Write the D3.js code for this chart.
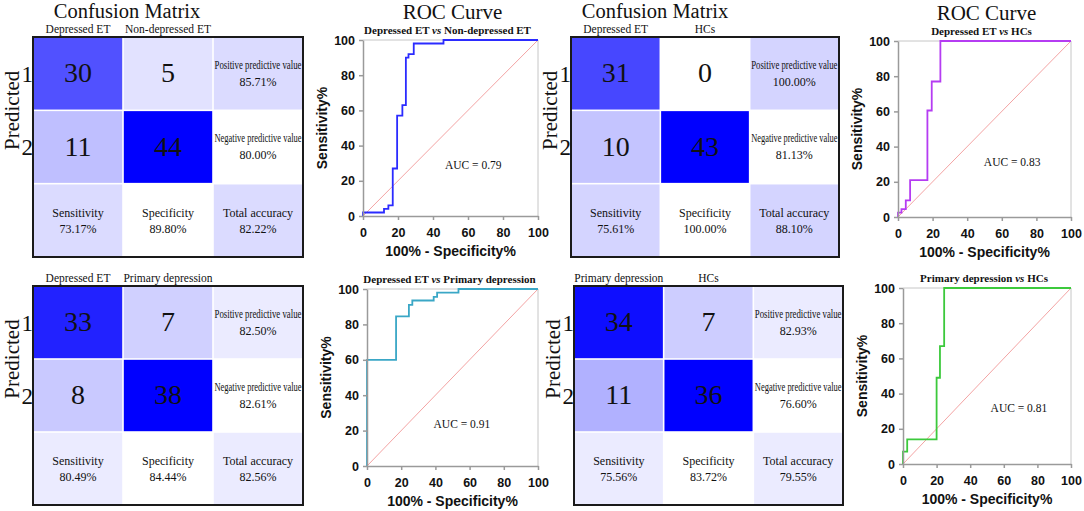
<!DOCTYPE html>
<html>
<head>
<meta charset="utf-8">
<script src="https://cdnjs.cloudflare.com/ajax/libs/d3/7.8.5/d3.min.js"></script>
<style>
  body { margin: 0; background: #fff; }
  svg { display: block; }
  .serif { font-family: 'Liberation Serif', 'Times New Roman', serif; fill: #111; }
  .sans { font-family: 'Liberation Sans', Arial, sans-serif; font-weight: bold; fill: #111; }
  .axis path, .axis line { stroke: #9a9a9a; stroke-width: 1.5; }
  .axis text { font-family: 'Liberation Sans', Arial, sans-serif; font-weight: bold; font-size: 12.5px; fill: #111; }
</style>
</head>
<body>
<svg id="fig" width="1084" height="511"></svg>
<script>
/*
* Confusion matrices + ROC curves, 2x2 comparisons
*/

// comparisons, panel order: top-left, top-right, bottom-left, bottom-right
let groupA = ['Depressed ET', 'Depressed ET', 'Depressed ET', 'Primary depression'];
let groupB = ['Non-depressed ET', 'HCs', 'Primary depression', 'HCs'];

// counts: [row1 col1, row1 col2, row2 col1, row2 col2]
let counts = [[30, 5, 11, 44], [31, 0, 10, 43], [33, 7, 8, 38], [34, 7, 11, 36]];
let ppv = [85.71, 100.00, 82.50, 82.93];
let npv = [80.00, 81.13, 82.61, 76.60];
let sensitivity = [73.17, 75.61, 80.49, 75.56];
let specificity = [89.80, 100.00, 84.44, 83.72];
let accuracy = [82.22, 88.10, 82.56, 79.55];

// ROC vertices (100% - specificity, sensitivity)
let rocFpr = [
  [0, 0, 12, 14.5, 17, 19.5, 22.5, 24.5, 26, 29, 46, 100],
  [0, 0, 2, 4.5, 7, 17, 19.5, 24.5, 100],
  [0, 0, 17, 24.5, 26.5, 39, 41, 53.5, 100],
  [0, 0, 2.5, 20, 22, 24.5, 100]
];
let rocTpr = [
  [0, 2, 4, 6, 27, 57, 63, 90, 92, 98, 100, 100],
  [0, 2.5, 4.5, 9.5, 21, 60.5, 77, 100, 100],
  [0, 60, 84.5, 91, 93.5, 95.5, 98, 100, 100],
  [0, 7, 14, 49, 67, 100, 100]
];
let auc = [0.79, 0.83, 0.91, 0.81];
let ticks = [0, 20, 40, 60, 80, 100];

// layout
let CM_BOX = [
  {l: 33, t: 37, r: 303, b: 257, titleX: 127},
  {l: 571, t: 37, r: 839, b: 257, titleX: 655},
  {l: 33, t: 286, r: 303, b: 505},
  {l: 574, t: 286, r: 843, b: 505}
];
let ROC_BOX = [
  {l: 363, r: 538, t: 40, b: 216, title: true},
  {l: 898, r: 1071, t: 41, b: 217, title: true},
  {l: 367, r: 538, t: 289, b: 466},
  {l: 903, r: 1071, t: 288, b: 464}
];
let AUC_AT = [[63, 29], [66, 31], [55.5, 24], [69, 32]];
let STAT_TINT = [0.14, 0.17, 0.08, 0.08];

let COLORS = {
  low: '#ffffff',
  high: '#0000ff',
  curve: ['#2b2bff', '#b53cf2', '#3aa7c6', '#3cc93c'],
  diag: '#f3a3a3'
};

let svg = d3.select('#fig');
svg.append('rect').attr('width', 1084).attr('height', 511).attr('fill', '#fff');

for (let i = 0; i < 4; i++) {
  drawMatrix(i);
  drawRoc(i);
}

function pct(v) {
  return v.toFixed(2) + '%';
}

function drawMatrix(i) {
  let box = CM_BOX[i];
  let g = svg.append('g').attr('class', 'matrix');
  let x = d3.scaleBand().domain([0, 1, 2]).range([box.l, box.r]);
  let y = d3.scaleBand().domain([0, 1, 2]).range([box.t, box.b]);
  let shade = d3.scaleLinear().domain([0, d3.max(counts[i])]).range([COLORS.low, COLORS.high]);
  let tint = d3.interpolateRgb(COLORS.low, COLORS.high)(STAT_TINT[i]);

  let cells = counts[i].map((v, k) => ({row: Math.floor(k / 2), col: k % 2, fill: shade(v), big: v}));
  cells.push({row: 0, col: 2, fill: tint, label: 'Positive predictive value', value: ppv[i], squeeze: true});
  cells.push({row: 1, col: 2, fill: COLORS.low, label: 'Negative predictive value', value: npv[i], squeeze: true});
  cells.push({row: 2, col: 0, fill: tint, label: 'Sensitivity', value: sensitivity[i]});
  cells.push({row: 2, col: 1, fill: COLORS.low, label: 'Specificity', value: specificity[i]});
  cells.push({row: 2, col: 2, fill: tint, label: 'Total accuracy', value: accuracy[i]});

  let cell = g.selectAll('.cell').data(cells).enter().append('g')
    .attr('class', 'cell')
    .attr('transform', d => 'translate(' + x(d.col) + ',' + y(d.row) + ')');

  cell.append('rect')
    .attr('x', 0.8)
    .attr('y', 0.8)
    .attr('width', x.bandwidth() - 1.6)
    .attr('height', y.bandwidth() - 1.6)
    .attr('fill', d => d.fill);

  let cx = x.bandwidth() / 2;
  let cy = y.bandwidth() / 2;

  cell.filter(d => d.big !== undefined).append('text')
    .attr('class', 'serif')
    .attr('x', cx)
    .attr('y', cy - 1)
    .attr('dy', '0.35em')
    .style('font-size', '28px')
    .style('text-anchor', 'middle')
    .text(d => d.big);

  let stat = cell.filter(d => d.label !== undefined);
  stat.append('text')
    .attr('class', 'serif')
    .attr('x', cx)
    .attr('y', d => cy - (d.row === 2 ? 8 : 9))
    .attr('dy', '0.35em')
    .style('font-size', d => d.squeeze ? '11.5px' : '12px')
    .each(function (d) {
      if (d.squeeze) {
        d3.select(this).attr('textLength', x.bandwidth() - 3).attr('lengthAdjust', 'spacingAndGlyphs');
      }
    })
    .style('text-anchor', 'middle')
    .text(d => d.label);

  stat.append('text')
    .attr('class', 'serif')
    .attr('x', cx)
    .attr('y', cy + 8)
    .attr('dy', '0.35em')
    .style('font-size', '12px')
    .style('text-anchor', 'middle')
    .text(d => pct(d.value));

  // outer frame
  g.append('rect')
    .attr('x', box.l)
    .attr('y', box.t)
    .attr('width', box.r - box.l)
    .attr('height', box.b - box.t)
    .attr('fill', 'none')
    .attr('stroke', '#1a1a1a')
    .attr('stroke-width', 2);

  // header
  if (box.titleX) {
    g.append('text')
      .attr('class', 'serif')
      .attr('x', box.titleX)
      .attr('y', box.t - 18.7)
      .style('font-size', '20.5px')
      .style('text-anchor', 'middle')
      .text('Confusion Matrix');
  }

  g.selectAll('.col-label').data([groupA[i], groupB[i]]).enter().append('text')
    .attr('class', 'serif col-label')
    .attr('x', (d, k) => x(k) + cx)
    .attr('y', box.t - 4.5)
    .style('font-size', '11.5px')
    .style('text-anchor', 'middle')
    .text(d => d);

  let mid = (y(0) + y(1) + y.bandwidth()) / 2;
  g.append('text')
    .attr('class', 'serif')
    .attr('transform', 'translate(' + (box.l - 14) + ',' + mid + ') rotate(-90)')
    .style('font-size', '21px')
    .style('text-anchor', 'middle')
    .text('Predicted');

  g.selectAll('.row-label').data(['1', '2']).enter().append('text')
    .attr('class', 'serif row-label')
    .attr('x', box.l)
    .attr('y', (d, k) => y(k) + cy)
    .attr('dy', '0.35em')
    .style('font-size', '23px')
    .style('text-anchor', 'end')
    .text(d => d);
}

function drawRoc(i) {
  let box = ROC_BOX[i];
  let g = svg.append('g').attr('class', 'roc');
  let x = d3.scaleLinear().domain([0, 100]).range([box.l, box.r]);
  let y = d3.scaleLinear().domain([0, 100]).range([box.b, box.t]);

  g.append('path')
    .attr('d', 'M' + x(0) + ',' + y(100) + 'H' + x(100) + 'V' + y(0))
    .attr('fill', 'none')
    .attr('stroke', '#c6c6c6')
    .attr('stroke-width', 1);

  g.append('line')
    .attr('x1', x(0)).attr('y1', y(0))
    .attr('x2', x(100)).attr('y2', y(100))
    .attr('stroke', COLORS.diag)
    .attr('stroke-width', 1);

  let pts = rocFpr[i].map((f, k) => [f, rocTpr[i][k]]);
  let line = d3.line()
    .x(d => x(d[0]))
    .y(d => y(d[1]))
    .curve(d3.curveStepAfter);

  g.append('path')
    .attr('d', line(pts))
    .attr('fill', 'none')
    .attr('stroke', COLORS.curve[i])
    .attr('stroke-width', 1.8);

  g.append('g')
    .attr('class', 'axis')
    .attr('transform', 'translate(0,' + box.b + ')')
    .call(d3.axisBottom(x).tickValues(ticks).tickSize(4).tickSizeOuter(0).tickPadding(8));

  g.append('g')
    .attr('class', 'axis')
    .attr('transform', 'translate(' + box.l + ',0)')
    .call(d3.axisLeft(y).tickValues(ticks).tickSize(4).tickSizeOuter(0).tickPadding(4));

  g.append('text')
    .attr('class', 'sans')
    .attr('x', (box.l + box.r) / 2)
    .attr('y', box.b + 40)
    .style('font-size', '14px')
    .style('text-anchor', 'middle')
    .text('100% - Specificity%');

  g.append('text')
    .attr('class', 'sans')
    .attr('transform', 'translate(' + (box.l - 36) + ',' + (box.t + box.b) / 2 + ') rotate(-90)')
    .style('font-size', '14px')
    .style('text-anchor', 'middle')
    .text('Sensitivity%');

  if (box.title) {
    g.append('text')
      .attr('class', 'serif')
      .attr('x', (box.l + box.r) / 2 + 2)
      .attr('y', box.t - 21)
      .style('font-size', '21px')
      .style('text-anchor', 'middle')
      .text('ROC Curve');
  }

  let sub = g.append('text')
    .attr('class', 'serif')
    .attr('x', (box.l + box.r) / 2 - 3)
    .attr('y', box.t - 6)
    .style('font-size', '11px')
    .style('font-weight', 'bold')
    .style('text-anchor', 'middle');
  sub.append('tspan').text(groupA[i] + ' ');
  sub.append('tspan').style('font-style', 'italic').text('vs');
  sub.append('tspan').text(' ' + groupB[i]);

  g.append('text')
    .attr('class', 'serif')
    .attr('x', x(AUC_AT[i][0]))
    .attr('y', y(AUC_AT[i][1]))
    .attr('dy', '0.35em')
    .style('font-size', '11.5px')
    .style('text-anchor', 'middle')
    .text('AUC = ' + auc[i].toFixed(2));
}
</script>
</body>
</html>
